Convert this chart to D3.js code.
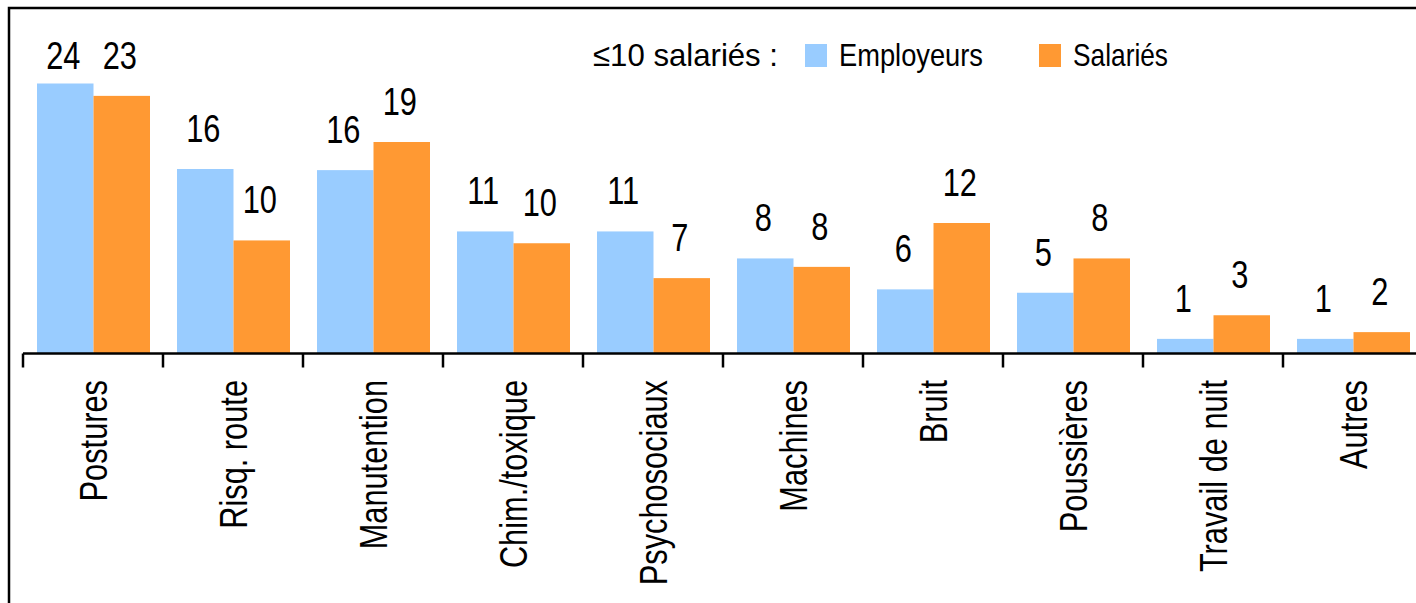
<!DOCTYPE html>
<html>
<head>
<meta charset="utf-8">
<script src="https://cdn.jsdelivr.net/npm/d3@7"></script>
<style>
  body { margin: 0; background: #fff; }
  text { font-family: "Liberation Sans", Arial, sans-serif; fill: #000; }
</style>
</head>
<body>
<div id="chart"></div>
<script>
// data
const categories = ['Postures', 'Risq. route', 'Manutention', 'Chim./toxique', 'Psychosociaux',
  'Machines', 'Bruit', 'Poussières', 'Travail de nuit', 'Autres'];
const seriesNames = ['Employeurs', 'Salariés'];
const employeurs = [24.0, 16.4, 16.3, 10.85, 10.85, 8.45, 5.7, 5.4, 1.3, 1.3];
const salaries = [22.9, 10.05, 18.8, 9.8, 6.7, 7.7, 11.6, 8.45, 3.4, 1.9];
const colors = ['#99CCFF', '#FF9933'];
const legendTitle = '≤10 salariés :';

const svgWidth = 1416;
const svgHeight = 603;
const axisY = 353.5;
const narrow = 0.81; // the original uses a condensed face

const svg = d3.select('#chart')
  .append('svg')
  .attr('width', svgWidth)
  .attr('height', svgHeight);

// outer frame (right and bottom edges fall outside the picture)
svg.append('rect')
  .attr('x', 9)
  .attr('y', 8)
  .attr('width', svgWidth + 20)
  .attr('height', svgHeight + 20)
  .attr('fill', 'none')
  .attr('stroke', '#000')
  .attr('stroke-width', 2.5);

// scales
const x0 = d3.scaleBand()
  .domain(categories)
  .range([23, 23 + 140 * categories.length]);

const x1 = d3.scaleBand()
  .domain(seriesNames)
  .range([14, 127]);

const y = d3.scaleLinear()
  .domain([0, 24])
  .range([axisY, 83.5]);

const rows = categories.map((c, i) => ({
  cat: c,
  vals: [
    { key: seriesNames[0], value: employeurs[i], color: colors[0] },
    { key: seriesNames[1], value: salaries[i], color: colors[1] }
  ]
}));

// bars
const groups = svg.selectAll('.cat')
  .data(rows)
  .enter()
  .append('g')
  .attr('class', 'cat')
  .attr('transform', d => `translate(${x0(d.cat)},0)`);

groups.selectAll('rect')
  .data(d => d.vals)
  .enter()
  .append('rect')
  .attr('x', d => x1(d.key))
  .attr('y', d => y(d.value))
  .attr('width', x1.bandwidth())
  .attr('height', d => axisY - y(d.value))
  .attr('fill', d => d.color);

// value labels (kept below the legend line)
groups.selectAll('.val')
  .data(d => d.vals)
  .enter()
  .append('text')
  .attr('class', 'val')
  .attr('transform', d => `translate(${x1(d.key) + x1.bandwidth() / 2 - 2}, ${Math.max(y(d.value) - 27, 69)}) scale(${narrow},1)`)
  .attr('text-anchor', 'middle')
  .attr('font-size', '38px')
  .text(d => Math.round(d.value));

// x axis line and ticks at band edges
svg.append('line')
  .attr('x1', x0.range()[0])
  .attr('x2', svgWidth)
  .attr('y1', axisY)
  .attr('y2', axisY)
  .attr('stroke', '#000')
  .attr('stroke-width', 2.5);

svg.selectAll('.tick')
  .data(categories)
  .enter()
  .append('line')
  .attr('class', 'tick')
  .attr('x1', d => x0(d))
  .attr('x2', d => x0(d))
  .attr('y1', axisY)
  .attr('y2', axisY + 14)
  .attr('stroke', '#000')
  .attr('stroke-width', 2.5);

// category labels, rotated
svg.selectAll('.catLabel')
  .data(categories)
  .enter()
  .append('text')
  .attr('class', 'catLabel')
  .attr('transform', d => `translate(${x0(d) + x0.bandwidth() / 2}, 380) rotate(-90) scale(${narrow},1)`)
  .attr('text-anchor', 'end')
  .attr('dy', '0.36em')
  .attr('font-size', '38px')
  .text(d => d);

// legend
const legend = svg.append('g');
legend.append('text')
  .attr('x', 593)
  .attr('y', 66)
  .attr('font-size', '32px')
  .attr('textLength', 185)
  .attr('lengthAdjust', 'spacingAndGlyphs')
  .text(legendTitle);

const legendX = [805, 1039];
const legendTextW = [144, 95];
seriesNames.forEach((s, i) => {
  legend.append('rect')
    .attr('x', legendX[i])
    .attr('y', 44)
    .attr('width', 22)
    .attr('height', 23)
    .attr('fill', colors[i]);
  legend.append('text')
    .attr('x', legendX[i] + 34)
    .attr('y', 66)
    .attr('font-size', '32px')
    .attr('textLength', legendTextW[i])
    .attr('lengthAdjust', 'spacingAndGlyphs')
    .text(s);
});
</script>
</body>
</html>
